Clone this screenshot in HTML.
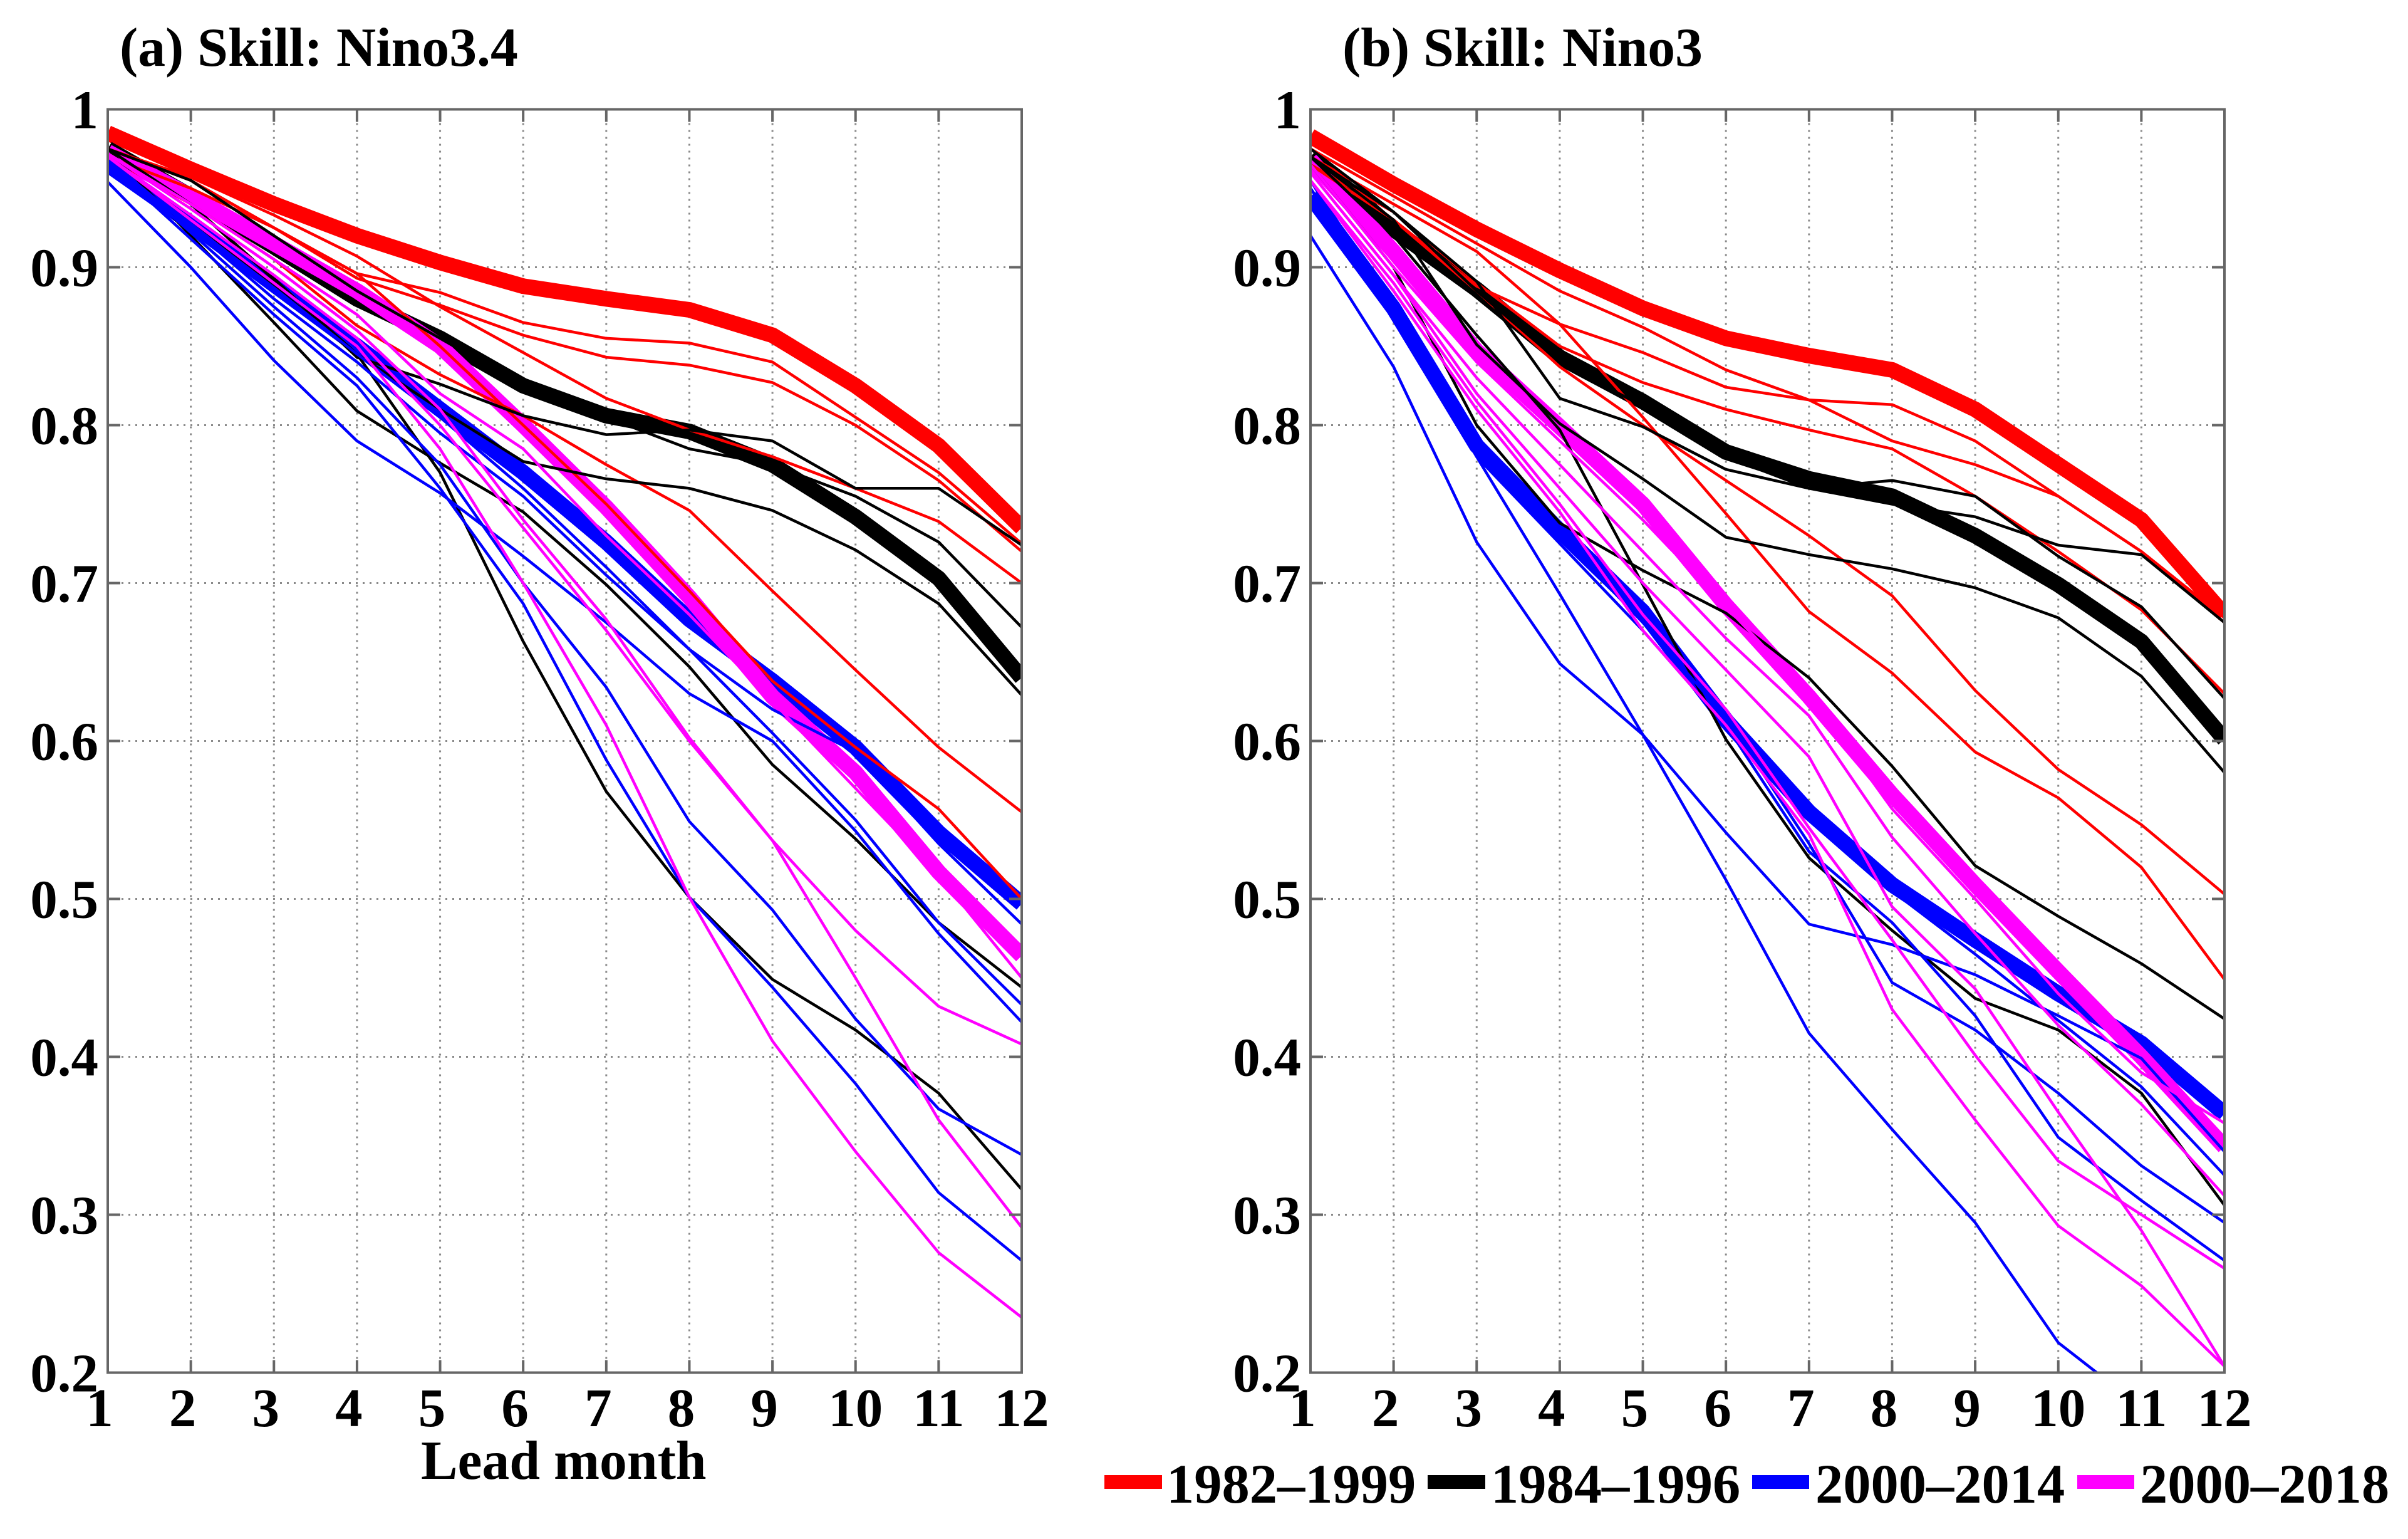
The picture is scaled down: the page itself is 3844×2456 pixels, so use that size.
<!DOCTYPE html>
<html>
<head>
<meta charset="utf-8">
<title>ENSO forecast skill by lead month</title>
<style>
html,body{margin:0;padding:0;background:#fff;}
svg{display:block;}
text{font-family:"Liberation Serif",serif;font-weight:bold;fill:#000;font-size:87px;}
.ttl{font-size:87.7px;}
.leg{font-size:88.5px;}
</style>
</head>
<body>
<svg id="chart" xmlns="http://www.w3.org/2000/svg" width="3844" height="2456" viewBox="0 0 3844 2456">
<rect x="0" y="0" width="3844" height="2456" fill="#fff"/>
<text class="ttl" x="191" y="105">(a) Skill: Nino3.4</text>
<text class="ttl" x="2143" y="105">(b) Skill: Nino3</text>
<text class="ttl" x="672" y="2360">Lead month</text>
<g id="legend">
<g><rect x="1763" y="2354" width="92" height="22" fill="#f00"/><text class="leg" x="1862" y="2398">1982–1999</text></g>
<g><rect x="2279" y="2354" width="92" height="22" fill="#000"/><text class="leg" x="2380" y="2398">1984–1996</text></g>
<g><rect x="2797" y="2354" width="91" height="22" fill="#00f"/><text class="leg" x="2898" y="2398">2000–2014</text></g>
<g><rect x="3316" y="2354" width="91" height="22" fill="#f0f"/><text class="leg" x="3416" y="2398">2000–2018</text></g>
</g>
</svg>
<script>
const leadMonths = [1,2,3,4,5,6,7,8,9,10,11,12];
const yTickValues = [0.2,0.3,0.4,0.5,0.6,0.7,0.8,0.9,1];
const yTickLabels = ['0.2','0.3','0.4','0.5','0.6','0.7','0.8','0.9','1'];
const xTickLabels = ['1','2','3','4','5','6','7','8','9','10','11','12'];

const aRedThick = [.985,.962,.94,.92,.903,.888,.880,.873,.857,.825,.787,.735];
const aBlackThick = [.975,.945,.913,.88,.855,.825,.806,.796,.775,.742,.703,.640];
const aBlueThick = [.965,.928,.889,.85,.81,.77,.726,.677,.638,.596,.542,.497];
const aMagentaThick = [.973,.945,.915,.885,.85,.80,.748,.691,.628,.58,.517,.464];

const aRedThin = [
  [.975,.955,.925,.896,.884,.865,.855,.852,.84,.805,.77,.725],
  [.975,.955,.925,.893,.876,.857,.843,.838,.827,.80,.765,.72],
  [.975,.957,.933,.907,.875,.846,.817,.797,.78,.76,.739,.70],
  [.97,.94,.905,.863,.832,.806,.775,.746,.695,.645,.596,.555],
  [.97,.95,.925,.896,.85,.80,.75,.695,.638,.596,.557,.50]
];
const aBlackThin = [
  [.975,.94,.893,.843,.826,.806,.794,.797,.79,.76,.76,.724],
  [.975,.955,.92,.885,.855,.825,.805,.785,.775,.755,.726,.672],
  [.975,.94,.892,.845,.81,.777,.766,.76,.746,.721,.687,.629],
  [.975,.92,.865,.809,.776,.745,.699,.647,.585,.538,.485,.444],
  [.97,.93,.888,.845,.77,.663,.568,.501,.449,.417,.377,.316]
];
const aBlueThin = [
  [.965,.927,.887,.845,.805,.76,.71,.658,.62,.593,.535,.484],
  [.968,.925,.88,.84,.795,.755,.705,.658,.605,.55,.485,.433],
  [.954,.90,.841,.79,.757,.717,.675,.63,.60,.543,.478,.422],
  [.968,.922,.875,.83,.775,.70,.634,.549,.493,.424,.367,.338],
  [.966,.918,.87,.825,.76,.687,.588,.501,.444,.383,.314,.271]
];
const aMagentaThin = [
  [.972,.94,.905,.87,.82,.785,.73,.68,.625,.57,.515,.45],
  [.972,.937,.90,.86,.81,.74,.677,.602,.537,.48,.432,.408],
  [.97,.933,.895,.855,.80,.735,.67,.60,.537,.45,.36,.292],
  [.97,.93,.89,.85,.785,.70,.61,.501,.41,.34,.276,.235]
];

const bRedThick = [.983,.9525,.924,.898,.874,.855,.844,.835,.81,.775,.74,.68];
const bBlackThick = [.97,.924,.886,.843,.815,.783,.766,.755,.73,.699,.663,.601];
const bBlueThick = [.945,.874,.787,.733,.682,.613,.555,.509,.474,.44,.4085,.364];
const bMagentaThick = [.968,.91,.847,.799,.75,.686,.628,.566,.509,.454,.40,.343];

const bRedThin = [
  [.975,.945,.915,.885,.862,.835,.816,.813,.79,.755,.72,.675],
  [.97,.93,.888,.864,.846,.824,.816,.79,.775,.755,.72,.678],
  [.965,.935,.89,.85,.827,.81,.797,.785,.755,.72,.683,.63],
  [.97,.94,.91,.864,.805,.744,.682,.643,.593,.564,.52,.449],
  [.965,.93,.885,.837,.80,.765,.73,.692,.632,.582,.547,.503]
];
const bBlackThin = [
  [.97,.935,.885,.84,.812,.78,.76,.75,.742,.724,.718,.675],
  [.97,.93,.851,.801,.766,.729,.718,.709,.697,.678,.641,.58],
  [.975,.935,.891,.817,.799,.772,.76,.765,.755,.717,.685,.627],
  [.965,.90,.80,.738,.708,.681,.64,.584,.521,.489,.459,.424],
  [.97,.92,.857,.797,.699,.601,.526,.48,.437,.417,.377,.306]
];
const bBlueThin = [
  [.92,.837,.726,.649,.604,.542,.484,.471,.452,.426,.399,.34],
  [.955,.87,.78,.693,.604,.512,.415,.354,.295,.219,.178,.14],
  [.95,.875,.78,.73,.675,.615,.535,.447,.417,.377,.331,.295],
  [.95,.87,.78,.725,.67,.61,.53,.485,.426,.349,.309,.271],
  [.955,.875,.785,.735,.68,.62,.55,.505,.465,.423,.381,.325]
];
const bMagentaThin = [
  [.965,.90,.84,.79,.74,.685,.63,.557,.50,.44,.39,.358],
  [.96,.895,.83,.775,.72,.665,.616,.539,.478,.42,.37,.312],
  [.96,.895,.82,.76,.70,.645,.59,.495,.443,.365,.29,.204],
  [.955,.89,.815,.75,.68,.62,.545,.474,.401,.334,.30,.266],
  [.955,.885,.81,.745,.67,.61,.541,.43,.36,.293,.255,.204]
];

const NS = 'http://www.w3.org/2000/svg';
const svg = document.getElementById('chart');
const PLOT_TOP = 174.5, PLOT_BOTTOM = 2190.5, PLOT_WIDTH = 1459;
const yScale = v => PLOT_BOTTOM - (v - 0.2) / 0.8 * (PLOT_BOTTOM - PLOT_TOP);

function shape(tag, attrs, parent) {
  const el = document.createElementNS(NS, tag);
  for (const k in attrs) el.setAttribute(k, attrs[k]);
  parent.appendChild(el);
  return el;
}

function drawPanel(id, left, thick, thin) {
  const xScale = m => left + (m - 1) / 11 * PLOT_WIDTH;
  const right = xScale(12);
  const panel = shape('g', {}, svg);
  
  

  const defs = shape('defs', {}, panel);
  const clip = shape('clipPath', {id: id + '-clip'}, defs);
  shape('rect', {x: left, y: PLOT_TOP, width: PLOT_WIDTH, height: PLOT_BOTTOM - PLOT_TOP}, clip);

  // grid
  leadMonths.forEach((m, i) => {
    if (i === 0 || i === 11) return;
    const g = shape('line', {x1: xScale(m), x2: xScale(m), y1: PLOT_TOP, y2: PLOT_BOTTOM, stroke: '#8a8a8a', 'stroke-width': 3, 'stroke-dasharray': '3 8'}, panel);
    
    
  });
  yTickValues.forEach((v, i) => {
    if (i === 0 || i === yTickValues.length - 1) return;
    const g = shape('line', {x1: left, x2: right, y1: yScale(v), y2: yScale(v), stroke: '#8a8a8a', 'stroke-width': 3, 'stroke-dasharray': '3 8'}, panel);
    
    
  });

  // series: thick means first, then thin members
  const colors = ['#f00', '#000', '#00f', '#f0f'];
  const periods = ['1982-1999', '1984-1996', '2000-2014', '2000-2018'];
  const seriesGroup = shape('g', {'clip-path': 'url(#' + id + '-clip)', fill: 'none', 'stroke-linejoin': 'round'}, panel);
  
  
  const toPoints = vals => vals.map((v, i) => xScale(leadMonths[i]).toFixed(1) + ',' + yScale(v).toFixed(1)).join(' ');
  thick.forEach((vals, c) => {
    const p = shape('polyline', {points: toPoints(vals), stroke: colors[c], 'stroke-width': 25}, seriesGroup);
    
    
  });
  thin.forEach((group, c) => {
    group.forEach(vals => {
      const p = shape('polyline', {points: toPoints(vals), stroke: colors[c], 'stroke-width': 4.5}, seriesGroup);
      
      
    });
  });

  // frame and ticks
  const frame = shape('rect', {x: left, y: PLOT_TOP, width: PLOT_WIDTH, height: PLOT_BOTTOM - PLOT_TOP, fill: 'none', stroke: '#666', 'stroke-width': 4}, panel);
  
  
  leadMonths.forEach((m, i) => {
    if (i > 0 && i < 11) {
      [[PLOT_TOP, PLOT_TOP + 20], [PLOT_BOTTOM, PLOT_BOTTOM - 20]].forEach(e => {
        const t = shape('line', {x1: xScale(m), x2: xScale(m), y1: e[0], y2: e[1], stroke: '#666', 'stroke-width': 4}, panel);
        
        
      });
    }
    const label = shape('text', {x: xScale(m) - (xTickLabels[i].length === 1 ? 13 : 0), y: 2276, 'text-anchor': 'middle'}, panel);
    label.textContent = xTickLabels[i];
    
    
  });
  yTickValues.forEach((v, i) => {
    if (i > 0 && i < yTickValues.length - 1) {
      [[left, left + 20], [right, right - 20]].forEach(e => {
        const t = shape('line', {x1: e[0], x2: e[1], y1: yScale(v), y2: yScale(v), stroke: '#666', 'stroke-width': 4}, panel);
        
        
      });
    }
    const label = shape('text', {x: left - 15, y: yScale(v) + 30, 'text-anchor': 'end'}, panel);
    label.textContent = yTickLabels[i];
    
    
  });
}

drawPanel('panel-a', 172, [aRedThick, aBlackThick, aBlueThick, aMagentaThick], [aRedThin, aBlackThin, aBlueThin, aMagentaThin]);
drawPanel('panel-b', 2092, [bRedThick, bBlackThick, bBlueThick, bMagentaThick], [bRedThin, bBlackThin, bBlueThin, bMagentaThin]);
</script>
</body>
</html>
